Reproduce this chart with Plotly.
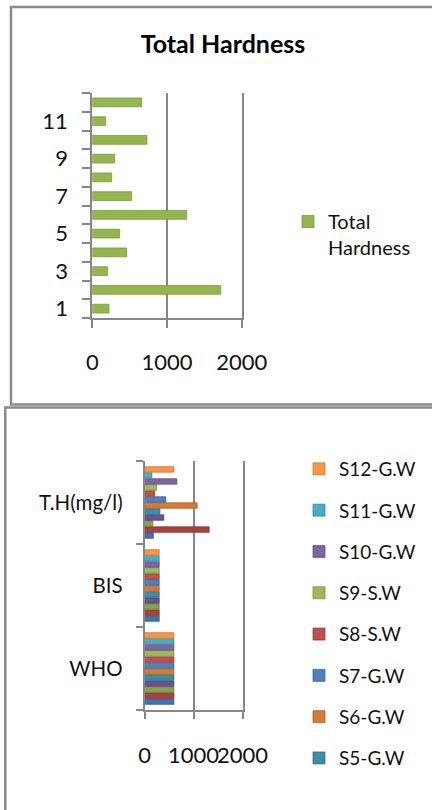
import plotly.graph_objects as go

# Figure canvas (pixels)
W, H = 432, 810


def fx(p):
    return p / W


def fy(p):
    return 1 - p / H


# ---- Data: chart 1 (Total Hardness per sample) ----
sample_ids = [str(i) for i in range(1, 13)]
total_hardness = [223, 1719, 205, 460, 366, 1263, 527, 259, 299, 732, 179, 661]
sample_tick_labels = ["1", "3", "5", "7", "9", "11"]
hardness_ticks = [0, 1000, 2000]

# ---- Data: chart 2 (samples vs. drinking-water standards) ----
groups = ["WHO", "BIS", "T.H(mg/l)"]
series_names = ["S1-G.W", "S2-G.W", "S3-G.W", "S4-G.W", "S5-G.W", "S6-G.W",
                "S7-G.W", "S8-S.W", "S9-S.W", "S10-G.W", "S11-G.W", "S12-G.W"]
who_limit = [600] * 12
bis_limit = [300] * 12
th_measured = [180, 1320, 170, 395, 315, 1075, 435, 210, 250, 660, 150, 600]
series_colors = ["#4470AD", "#A9423F", "#84A548", "#6B5290", "#3A8EA6", "#D27C37",
                 "#4F81BD", "#C0504D", "#9BBB59", "#8064A2", "#4BACC6", "#F79646"]
series_edges = ["#2E5285", "#7E2D2B", "#5F7A30", "#4D3A6B", "#27687C", "#9E5A24",
                "#375E8E", "#8F3735", "#718B3E", "#5C4778", "#337F95", "#C27232"]
legend_hidden = {"S1-G.W", "S2-G.W", "S3-G.W", "S4-G.W"}

FONT = "Lato"
GRID = "#878787"

fig = go.Figure()

# Chart 1 bars
fig.add_trace(go.Bar(
    y=sample_ids, x=total_hardness, orientation="h",
    name="Total<br>Hardness", width=0.47,
    marker=dict(color="#93B64F", line=dict(color="#789A3A", width=0.8)),
    xaxis="x", yaxis="y", legend="legend",
))

# Chart 2 bars: one trace per sample across the three groups;
# legend lists the last sample first
n_series = len(series_names)
for i, (name, color, edge, who, bis, th) in enumerate(zip(
        series_names, series_colors, series_edges, who_limit, bis_limit, th_measured)):
    fig.add_trace(go.Bar(
        y=groups, x=[who, bis, th], orientation="h", name=name,
        marker=dict(color=color, line=dict(color=edge, width=0.7)),
        xaxis="x2", yaxis="y2", legend="legend2", legendgroup=name,
        legendrank=100 + n_series - i,
        showlegend=name not in legend_hidden,
    ))

axis_font = dict(family=FONT, size=22, color="#111111")

fig.update_layout(
    width=W, height=H, autosize=False,
    margin=dict(l=0, r=0, t=0, b=0, autoexpand=False),
    paper_bgcolor="white", plot_bgcolor="white",
    font=dict(family=FONT, color="#111111"),
    barmode="group", bargap=0.13, bargroupgap=0.08,
    title=dict(text="<b>Total Hardness</b>", x=fx(223), xanchor="center",
               y=fy(44), yanchor="middle", font=dict(family=FONT, size=25, color="#000000")),
    xaxis=dict(domain=[fx(92.3), fx(241.7)], anchor="y", range=[0, 2000],
               tickvals=hardness_ticks, tickangle=0, ticks="outside", ticklen=8,
               tickcolor=GRID, tickwidth=2, showline=True, linecolor=GRID, linewidth=2,
               showgrid=True, gridcolor=GRID, gridwidth=2, zeroline=False,
               tickfont=axis_font, ticklabelstandoff=16),
    yaxis=dict(domain=[fy(318), fy(93)], anchor="x", type="category",
               categoryorder="array", categoryarray=sample_ids,
               tickvals=sample_ids,
               ticktext=[s if s in sample_tick_labels else "" for s in sample_ids],
               tickson="boundaries", ticks="outside", ticklen=8, tickcolor=GRID, tickwidth=2,
               showline=True, mirror=True, linecolor=GRID, linewidth=2, showgrid=False,
               tickfont=axis_font, ticklabelstandoff=18),
    xaxis2=dict(domain=[fx(144.5), fx(242.5)], anchor="y2", range=[0, 2000],
                tickvals=hardness_ticks, tickangle=0, ticks="outside", ticklen=7,
                tickcolor=GRID, tickwidth=1.5, showline=True, linecolor=GRID, linewidth=1.5,
                showgrid=True, gridcolor=GRID, gridwidth=1.5, zeroline=False,
                tickfont=axis_font, ticklabelstandoff=18),
    yaxis2=dict(domain=[fy(710), fy(461)], anchor="x2", type="category",
                categoryorder="array", categoryarray=groups,
                tickson="boundaries", ticks="outside", ticklen=7, tickcolor=GRID, tickwidth=1.5,
                showline=True, mirror=True, linecolor=GRID, linewidth=1.5, showgrid=False,
                tickfont=dict(family=FONT, size=20.5, color="#111111"), ticklabelstandoff=16),
    legend=dict(x=fx(288), y=fy(202), xanchor="left", yanchor="top",
                font=dict(family=FONT, size=20, color="#111111"), valign="top",
                bgcolor="rgba(0,0,0,0)"),
    legend2=dict(x=fx(299), y=fy(450), xanchor="left", yanchor="top",
                 font=dict(family=FONT, size=19, color="#111111"),
                 traceorder="grouped", tracegroupgap=13.6,
                 bgcolor="rgba(0,0,0,0)"),
    showlegend=True,
    shapes=[
        # outer frame of chart 1
        dict(type="path", xref="paper", yref="paper",
             path=f"M {fx(445)} {fy(7)} L {fx(11)} {fy(7)} L {fx(11)} {fy(404.5)} L {fx(445)} {fy(404.5)}",
             line=dict(color="#8A8A8A", width=2.5)),
        # outer frame of chart 2
        dict(type="path", xref="paper", yref="paper",
             path=f"M {fx(445)} {fy(407.5)} L {fx(5.3)} {fy(407.5)} L {fx(5.3)} {fy(820)}",
             line=dict(color="#8A8A8A", width=2.5)),
    ],
)

fig.write_html("out.html")
